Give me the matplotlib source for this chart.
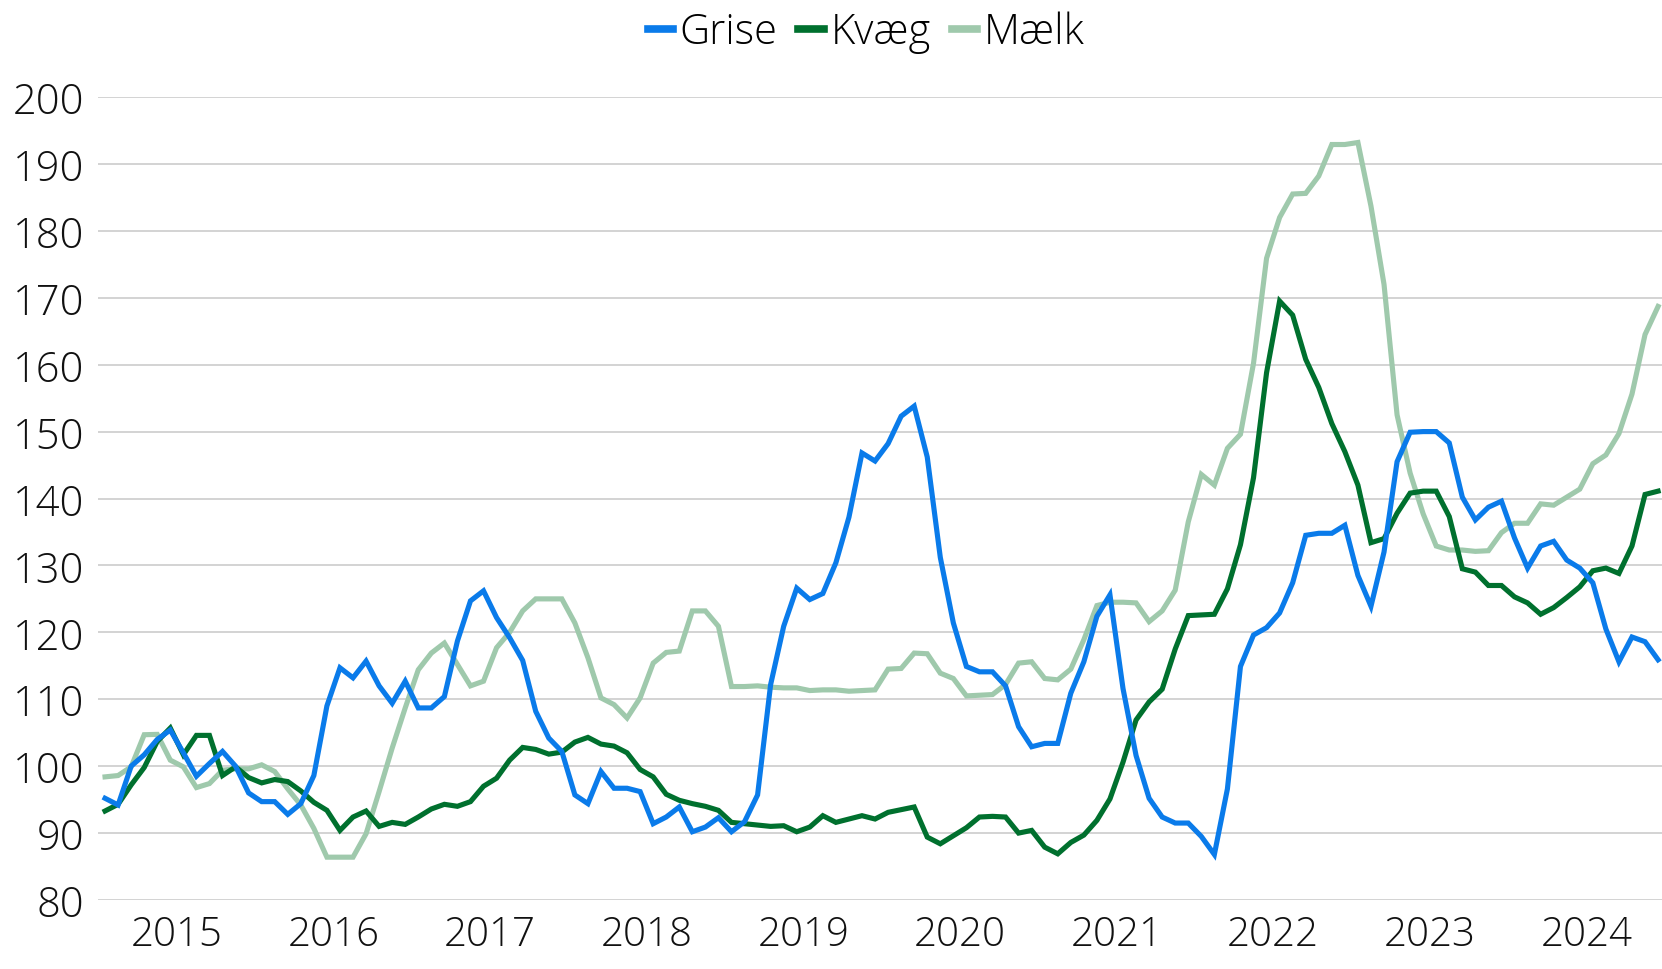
import matplotlib
matplotlib.use("Agg")
import matplotlib.pyplot as plt
from matplotlib import font_manager
import numpy as np

# ---- data (monthly index, Jan 2015 - Dec 2024) ----
years = ["2015", "2016", "2017", "2018", "2019", "2020", "2021", "2022", "2023", "2024"]

grise = [95.2, 94.2, 100.0, 101.7, 104.0, 105.4, 102.0, 98.5, 100.4, 102.2, 100.0, 96.0,
         94.7, 94.7, 92.8, 94.4, 98.6, 109.0, 114.7, 113.2, 115.7, 112.0, 109.4, 112.7,
         108.7, 108.7, 110.4, 118.7, 124.7, 126.2, 122.2, 119.2, 115.8, 108.2, 104.2, 102.2,
         95.7, 94.4, 99.2, 96.7, 96.7, 96.2, 91.4, 92.4, 93.9, 90.2, 90.9, 92.3,
         90.2, 91.7, 95.7, 112.2, 120.9, 126.6, 124.9, 125.8, 130.4, 137.2, 146.8, 145.6,
         148.2, 152.3, 153.8, 146.2, 131.2, 121.4, 114.9, 114.1, 114.1, 112.0, 105.9, 102.9,
         103.4, 103.4, 110.9, 115.6, 122.4, 125.6, 111.6, 101.6, 95.2, 92.4, 91.5, 91.5,
         89.5, 86.8, 96.6, 114.9, 119.6, 120.7, 122.9, 127.4, 134.5, 134.8, 134.8, 136.0,
         128.5, 123.9, 132.0, 145.5, 149.9, 150.0, 150.0, 148.3, 140.2, 136.8, 138.7, 139.6,
         134.1, 129.6, 132.9, 133.6, 130.8, 129.6, 127.4, 120.5, 115.6, 119.3, 118.6, 115.9]

kvaeg = [93.3, 94.3, 97.2, 99.8, 103.7, 105.7, 101.7, 104.6, 104.6, 98.6, 99.9, 98.3,
         97.5, 98.0, 97.7, 96.3, 94.6, 93.4, 90.4, 92.4, 93.3, 91.0, 91.6, 91.3,
         92.4, 93.6, 94.3, 94.0, 94.7, 97.0, 98.2, 100.9, 102.8, 102.5, 101.8, 102.1,
         103.6, 104.3, 103.3, 103.0, 102.0, 99.5, 98.4, 95.8, 94.9, 94.4, 94.0, 93.4,
         91.6, 91.4, 91.2, 91.0, 91.1, 90.2, 90.9, 92.6, 91.6, 92.1, 92.6, 92.1,
         93.1, 93.5, 93.9, 89.4, 88.4, 89.6, 90.8, 92.4, 92.5, 92.4, 90.0, 90.4,
         87.9, 86.9, 88.6, 89.7, 91.9, 95.1, 100.6, 106.9, 109.6, 111.5, 117.5, 122.5,
         122.6, 122.7, 126.5, 133.1, 143.1, 158.8, 169.5, 167.4, 160.8, 156.6, 151.2, 147.0,
         142.0, 133.4, 134.0, 137.8, 140.8, 141.1, 141.1, 137.3, 129.5, 129.0, 127.0, 127.0,
         125.3, 124.4, 122.7, 123.7, 125.2, 126.8, 129.2, 129.6, 128.8, 132.9, 140.6, 141.1]

maelk = [98.4, 98.6, 99.9, 104.7, 104.75, 100.9, 99.9, 96.8, 97.4, 99.4, 99.6, 99.6,
         100.2, 99.2, 96.6, 94.2, 90.7, 86.4, 86.4, 86.4, 89.9, 96.2, 102.7, 108.7,
         114.4, 116.9, 118.4, 115.2, 112.0, 112.7, 117.7, 120.0, 123.2, 125.0, 125.0, 125.0,
         121.4, 116.2, 110.2, 109.2, 107.2, 110.2, 115.4, 117.0, 117.2, 123.2, 123.2, 120.9,
         111.9, 111.9, 112.0, 111.8, 111.7, 111.7, 111.3, 111.4, 111.4, 111.2, 111.3, 111.4,
         114.5, 114.6, 116.9, 116.8, 113.9, 113.1, 110.5, 110.6, 110.7, 112.2, 115.4, 115.6,
         113.1, 112.9, 114.5, 118.9, 124.0, 124.5, 124.5, 124.4, 121.6, 123.2, 126.3, 136.5,
         143.6, 142.0, 147.5, 149.6, 160.2, 175.9, 182.0, 185.5, 185.6, 188.2, 192.9, 192.9,
         193.2, 183.7, 172.0, 152.5, 143.8, 137.7, 132.9, 132.3, 132.3, 132.1, 132.2, 134.9,
         136.3, 136.3, 139.2, 139.0, 140.2, 141.4, 145.2, 146.5, 149.7, 155.6, 164.5, 168.7]

series_names = ["Grise", "Kvæg", "Mælk"]
colors = ["#0a7bea", "#00702e", "#9fc9ac"]
yticks = [80, 90, 100, 110, 120, 130, 140, 150, 160, 170, 180, 190, 200]

# ---- font ----
available = {f.name for f in font_manager.fontManager.ttflist}
fam = "Open Sans" if "Open Sans" in available else "DejaVu Sans"
plt.rcParams["font.family"] = [fam, "DejaVu Sans"]

fig = plt.figure(figsize=(16.62, 9.70), dpi=100)
ax = fig.add_axes([98 / 1662, (970 - 901) / 970, 1 - 98 / 1662, (901 - 98) / 970])

x = np.arange(len(grise))
order = [(maelk, 2), (kvaeg, 1), (grise, 0)]
for data, i in order:
    ax.plot(x, data, color=colors[i], lw=3.7, label=series_names[i], zorder=3 + (2 - i),
            solid_joinstyle="miter")

ax.set_xlim(-0.54, 119.3)
ax.set_ylim(80, 200)
ax.set_yticks(yticks)
ax.set_yticklabels([str(v) for v in yticks])
ax.set_xticks([5.5 + 12 * k for k in range(len(years))])
ax.set_xticklabels(years)

ax.grid(axis="y", color="#d0d0d0", lw=1.3, zorder=0)
ax.grid(axis="x", visible=False)
for s in ax.spines.values():
    s.set_visible(False)
ax.tick_params(axis="both", length=0, labelsize=30, colors="#111111")
ax.tick_params(axis="y", pad=10)
ax.tick_params(axis="x", labelsize=29, pad=10)
for lbl in ax.get_xticklabels() + ax.get_yticklabels():
    lbl.set_fontweight("light")

handles, labels = ax.get_legend_handles_labels()
hmap = dict(zip(labels, handles))
leg = fig.legend([hmap[n] for n in series_names], series_names,
                 loc="center", bbox_to_anchor=(866 / 1662, 1 - 33 / 970),
                 ncol=3, frameon=False, fontsize=30, handlelength=0.62,
                 handletextpad=0.15, columnspacing=0.5, borderpad=0)
for t in leg.get_texts():
    t.set_fontweight("light")
for h in leg.get_lines():
    h.set_linewidth(5.5)

fig.savefig("out.png", dpi=100)
